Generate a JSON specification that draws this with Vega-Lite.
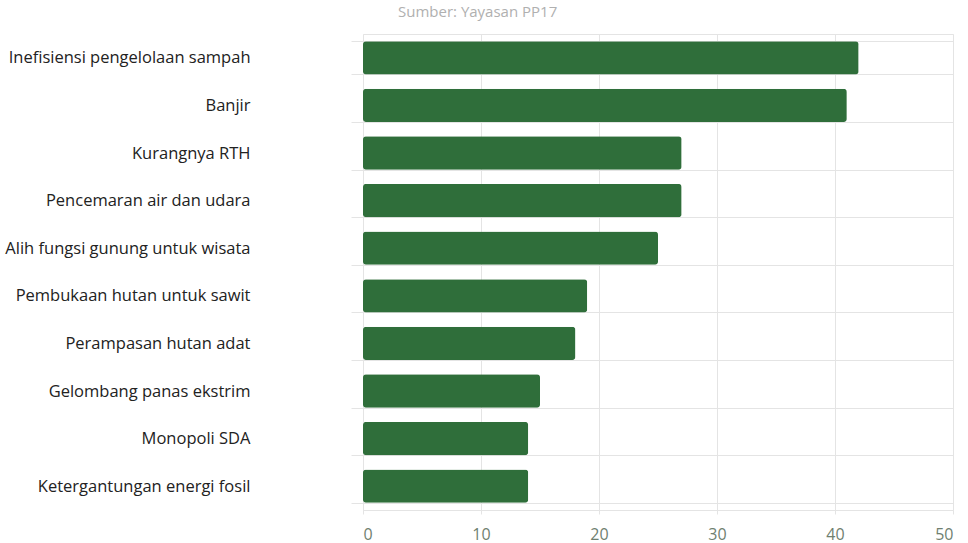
{
  "$schema": "https://vega.github.io/schema/vega-lite/v6.json",
  "autosize": "none",
  "width": 590,
  "height": 476,
  "padding": {"left": 363, "top": 34, "right": 15, "bottom": 33},
  "background": "white",
  "title": {
    "text": "Sumber: Yayasan PP17",
    "anchor": "start",
    "frame": "group",
    "dx": 35,
    "dy": 23,
    "offset": 14,
    "baseline": "bottom",
    "font": "Open Sans",
    "fontSize": 15,
    "fontWeight": "normal",
    "color": "#b0b0b0"
  },
  "data": {
    "values": [
      {"isu": "Inefisiensi pengelolaan sampah", "nilai": 42},
      {"isu": "Banjir", "nilai": 41},
      {"isu": "Kurangnya RTH", "nilai": 27},
      {"isu": "Pencemaran air dan udara", "nilai": 27},
      {"isu": "Alih fungsi gunung untuk wisata", "nilai": 25},
      {"isu": "Pembukaan hutan untuk sawit", "nilai": 19},
      {"isu": "Perampasan hutan adat", "nilai": 18},
      {"isu": "Gelombang panas ekstrim", "nilai": 15},
      {"isu": "Monopoli SDA", "nilai": 14},
      {"isu": "Ketergantungan energi fosil", "nilai": 14}
    ]
  },
  "mark": {"type": "bar", "color": "#2f6e3a", "cornerRadius": 3},
  "encoding": {
    "y": {
      "field": "isu",
      "type": "nominal",
      "sort": null,
      "title": null,
      "scale": {"paddingInner": 0.3, "paddingOuter": 0.15},
      "axis": {
        "domain": false,
        "grid": true,
        "gridColor": "#e4e4e4",
        "tickBand": "extent",
        "ticks": true,
        "tickSize": 12,
        "tickColor": "#e4e4e4",
        "labelPadding": 101,
        "labelFont": "Open Sans",
        "labelFontSize": 16.5,
        "labelColor": "#222222",
        "labelLimit": 400
      }
    },
    "x": {
      "field": "nilai",
      "type": "quantitative",
      "title": null,
      "scale": {"domain": [0, 50], "nice": false},
      "axis": {
        "values": [0, 10, 20, 30, 40, 50],
        "domain": true,
        "domainColor": "#e4e4e4",
        "grid": true,
        "gridColor": "#e4e4e4",
        "tickColor": "#e4e4e4",
        "tickSize": 4,
        "labelPadding": 12,
        "labelFont": "Open Sans",
        "labelFontSize": 16,
        "labelColor": "#6f7f70"
      }
    }
  },
  "config": {"view": {"stroke": "#e4e4e4"}}
}
